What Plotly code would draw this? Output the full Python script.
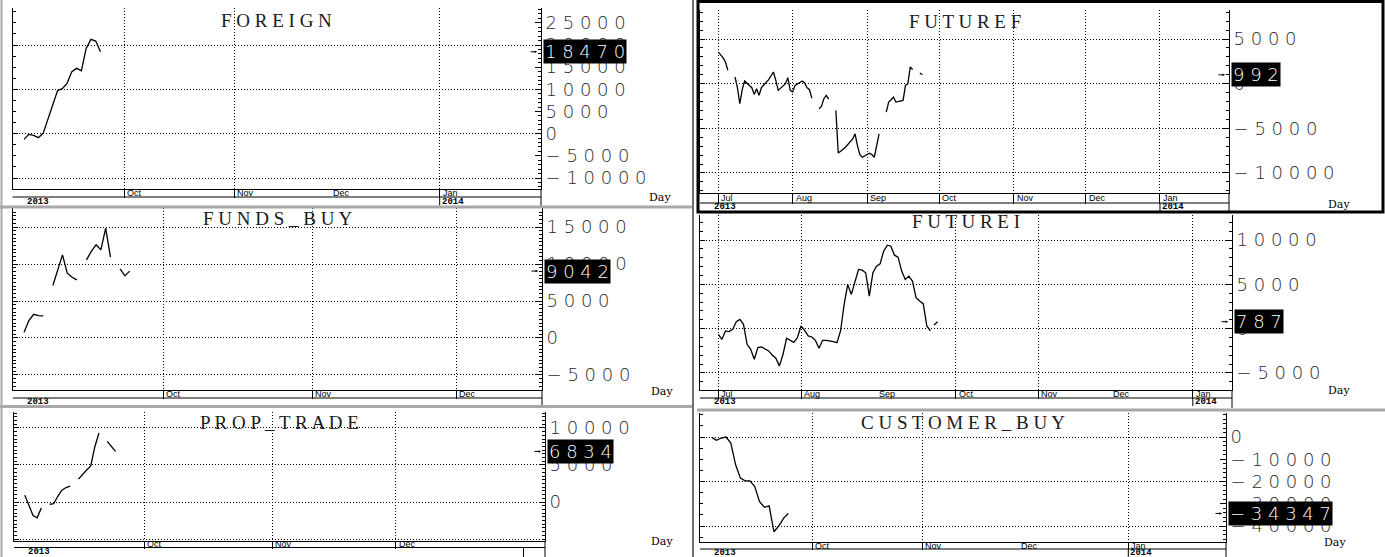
import plotly.graph_objects as go
import pandas as pd

W, H = 1385, 557

# ---------------- data ----------------
MONTH_TICKS = ["2013-07-01", "2013-08-01", "2013-09-01", "2013-10-01",
               "2013-11-01", "2013-12-01", "2014-01-01"]
MONTH_LABELS = ["Jul", "Aug", "Sep", "Oct", "Nov", "Dec", "Jan"]

FOREIGN_DATES = ["09-02", "09-03", "09-04", "09-05", "09-06", "09-09", "09-10", "09-11", "09-12",
                 "09-13", "09-16", "09-17", "09-18", "09-19", "09-20", "09-23", "09-24"]
FOREIGN_VALUES = [-1278, -150, -376, -902, 75, 3233, 6300, 9700, 10150,
                  11353, 13985, 14737, 14211, 19248, 21278, 20902, 18470]

CUSTOMER_BUY_DATES = list(FOREIGN_DATES)
CUSTOMER_BUY_VALUES = [-150, -1504, -451, 0, -2707, -12483, -18499, -19702, -19702,
                       -22259, -29027, -31584, -30982, -42563, -40006, -36547, -34347]

FUTUREF_DATES = ["07-01", "07-02", "07-03", "07-04", "07-05", "07-06",
                 "07-08", "07-09", "07-10", "07-11", "07-12", "07-15", "07-16", "07-17", "07-18",
                 "07-19", "07-22", "07-23", "07-24", "07-25", "07-26", "07-29", "07-30", "07-31",
                 "08-01", "08-02", "08-05", "08-06", "08-07", "08-08", "08-09", "08-10",
                 "08-12", "08-13", "08-14", "08-15", "08-16", "08-17",
                 "08-19", "08-20", "08-21", "08-22", "08-23", "08-26", "08-27", "08-28", "08-29",
                 "08-30", "09-02", "09-03", "09-04", "09-05", "09-06", "09-07",
                 "09-09", "09-10", "09-11", "09-12", "09-13", "09-16", "09-17", "09-18", "09-19",
                 "09-20", "09-21",
                 "09-23", "09-24"]
FUTUREF_VALUES = [3558, 3258, 2921, 2434, 1498, None,
                  749, -449, -2247, -674, 300, -449, -1198, -562, -1311,
                  -449, 449, 936, 1311, 375, -749, 0, 674, -749,
                  -936, -187, 300, 75, -449, -674, -1610, None,
                  -2809, -2547, -1685, -1311, -1723, None,
                  -2996, -7752, -7565, -7303, -7116, -6179, -5618, -6928, -7939,
                  -8239, -7790, -7939, -8239, -6928, -5618, None,
                  -3183, -2060, -1798, -1498, -2060, -1873, -187, 0, 1873,
                  1573, None,
                  1198, 992]

FUNDS_BUY_DATES = ["09-02", "09-03", "09-04", "09-05", "09-06", "09-07",
                   "09-08", "09-09", "09-10", "09-11", "09-12", "09-13", "09-14",
                   "09-15", "09-16", "09-17", "09-18", "09-19", "09-20", "09-21",
                   "09-22", "09-23", "09-24"]
FUNDS_BUY_VALUES = [768, 2348, 3206, 3025, 2980, None,
                    7089, 9165, 11242, 8759, 8217, 7856, None,
                    10565, 11694, 12597, 11920, 14854, 10926, None,
                    9346, 8398, 9042]

PROP_TRADE_DATES = list(FUNDS_BUY_DATES)
PROP_TRADE_VALUES = [909, -591, -1818, -2136, -800, None,
                     -318, -227, 773, 1591, 1955, 2136, None,
                     3091, 3773, 4318, 4864, 7500, 9318, None,
                     8182, 7500, 6834]

FUTUREI_START, FUTUREI_END = "2013-07-01", "2013-09-24"
FUTUREI_VALUES = [-638, -1200, -263, -338, -75, 788, 1050, 488, -1763, -2325,
                  -3450, -2138, -2063, -2250, -2513, -2963, -3338, -4200, -2888, -1088,
                  -1313, -1538, -1013, 300, -188, -825, -938, -1313, -2213, -1313,
                  -1313, -1350, -1463, -1575, -263, 2738, 4988, 3863, 5175, 6675,
                  6600, 6300, 3675, 6300, 7050, 7313, 8738, 9413, 9300, 8288,
                  8063, 6488, 5550, 5925, 5363, 3488, 3113, 2813, 300, -263,
                  413, 787]
FUTUREI_BREAKS = ["2013-09-21"]

Y_LABELS = {
    "FOREIGN": [25000, 20000, 15000, 10000, 5000, 0, -5000, -10000],
    "FUTUREF": [5000, 0, -5000, -10000],
    "FUNDS_BUY": [15000, 10000, 5000, 0, -5000],
    "FUTUREI": [10000, 5000, 0, -5000],
    "PROP_TRADE": [10000, 5000, 0],
    "CUSTOMER_BUY": [0, -10000, -20000, -30000, -40000],
}
Y_GRID = {
    "FOREIGN": [20000, 10000, 0, -10000],
    "FUTUREF": [5000, 0, -5000, -10000],
    "FUNDS_BUY": [15000, 10000, 5000, 0, -5000],
    "FUTUREI": [10000, 5000, 0, -5000],
    "PROP_TRADE": [10000, 5000, 0, -5000],
    "CUSTOMER_BUY": [0, -20000, -40000],
}
X_MONTHS = {
    "FOREIGN": ["Oct", "Nov", "Dec", "Jan"],
    "FUTUREF": ["Jul", "Aug", "Sep", "Oct", "Nov", "Dec", "Jan"],
    "FUNDS_BUY": ["Oct", "Nov", "Dec"],
    "FUTUREI": ["Jul", "Aug", "Sep", "Oct", "Nov", "Dec", "Jan"],
    "PROP_TRADE": ["Oct", "Nov", "Dec"],
    "CUSTOMER_BUY": ["Oct", "Nov", "Dec", "Jan"],
}
YEAR_TICK_ONLY = {"PROP_TRADE": "2014-01-01"}


def with_year(ds):
    return ["2013-" + d for d in ds]


fut_i_dates = [d.strftime("%Y-%m-%d") for d in pd.bdate_range(FUTUREI_START, FUTUREI_END)]
fut_i_x, fut_i_y = [], []
for d, v in zip(fut_i_dates, FUTUREI_VALUES):
    for b in FUTUREI_BREAKS:
        if fut_i_x and fut_i_x[-1] < b < d:
            fut_i_x.append(b)
            fut_i_y.append(None)
    fut_i_x.append(d)
    fut_i_y.append(v)

SERIES = {
    "FOREIGN": (with_year(FOREIGN_DATES), FOREIGN_VALUES),
    "FUTUREF": (with_year(FUTUREF_DATES), FUTUREF_VALUES),
    "FUNDS_BUY": (with_year(FUNDS_BUY_DATES), FUNDS_BUY_VALUES),
    "FUTUREI": (fut_i_x, fut_i_y),
    "PROP_TRADE": (with_year(PROP_TRADE_DATES), PROP_TRADE_VALUES),
    "CUSTOMER_BUY": (with_year(CUSTOMER_BUY_DATES), CUSTOMER_BUY_VALUES),
}

# ---------------- layout config (pixels) ----------------
PANELS = [
    dict(name="FOREIGN", px=(12.5, 541), py=(8, 189), strip=197, year=201.5, bottom=206,
         title_y=20, yr=(-12480, 28350), rminor=1000, lminor=2500,
         xr=("2013-08-28 14:00", "2014-01-30 05:00"), weekday=True, day=(660, 197)),
    dict(name="FUTUREF", px=(700, 1229), py=(10, 193), strip=203, year=207, bottom=211,
         title_y=21, yr=(-12240, 8250), rminor=1000, lminor=1000,
         xr=("2013-06-23 10:00", "2014-01-29 18:00"), weekday=False, day=(1352, 205)),
    dict(name="FUNDS_BUY", px=(13, 542), py=(208, 390), strip=398, year=402, bottom=406,
         title_y=219, yr=(-7030, 17570), rminor=500, lminor=500,
         xr=("2013-08-30 16:35", "2013-12-18 21:36"), weekday=False, day=(662, 400)),
    dict(name="FUTUREI", px=(700, 1232), py=(215, 390), strip=398, year=402, bottom=408,
         title_y=221, yr=(-6920, 12820), rminor=1000, lminor=1000,
         xr=("2013-06-21 21:36", "2014-01-15 21:36"), weekday=True, day=(1352, 399)),
    dict(name="PROP_TRADE", px=(14, 545), py=(412, 541), strip=547.5, year=551.5, bottom=557,
         title_y=422, yr=(-5270, 12160), rminor=500, lminor=500,
         xr=("2013-08-30 09:00", "2014-01-06 05:00"), weekday=False, day=(662, 550)),
    dict(name="CUSTOMER_BUY", px=(700, 1226), py=(413, 542), strip=549, year=553, bottom=557,
         title_y=422, yr=(-47190, 10790), rminor=2000, lminor=5000,
         xr=("2013-08-28 13:30", "2014-01-29 09:36"), weekday=True, day=(1348, 551)),
]

LABEL_FONT = "DejaVu Sans"
TITLE_FONT = "Liberation Serif"


def spaced(s):
    return " ".join(list(s))


def num_text(v):
    s = str(abs(int(v)))
    return spaced(("\u2212" if v < 0 else "") + s)


def fx(x):
    return x / W


def fy(y):
    return 1 - y / H


fig = go.Figure()
layout = dict(width=W, height=H, margin=dict(l=0, r=0, t=0, b=0, pad=0),
              paper_bgcolor="white", plot_bgcolor="white", showlegend=False)
annotations, shapes = [], []

for i, p in enumerate(PANELS):
    k = i + 1
    sfx = "" if k == 1 else str(k)
    xname, yname, y2name = "x" + sfx, "y" + sfx, "y" + str(k + 6)
    x0, x1 = p["px"]
    yt, yb = p["py"]
    strip_h = p["strip"] - yb
    months = [(m, lab) for m, lab in zip(MONTH_TICKS, MONTH_LABELS)
              if lab in X_MONTHS[p["name"]]]
    mvals = [m for m, _ in months]

    xa = dict(domain=[fx(x0), fx(x1)], anchor=yname, type="date", range=list(p["xr"]),
              tickmode="array", tickvals=mvals, showticklabels=False,
              ticks="outside", ticklen=strip_h, tickwidth=1, tickcolor="black",
              showgrid=True, gridcolor="#000000", griddash="1px,2px", gridwidth=1,
              showline=True, linecolor="black", linewidth=1, zeroline=False, fixedrange=True)
    if p["weekday"]:
        xa["rangebreaks"] = [dict(bounds=["sat", "mon"])]
    layout["xaxis" + sfx] = xa

    labels = Y_LABELS[p["name"]]
    layout["yaxis" + sfx] = dict(
        domain=[fy(yb), fy(yt)], anchor=xname, side="right", range=list(p["yr"]),
        tickmode="array", tickvals=labels, ticktext=[num_text(v) for v in labels],
        tickfont=dict(family=LABEL_FONT, size=18, color="#2a2a2a", weight=300),
        ticks="inside", ticklen=6, tickwidth=1, tickcolor="black",
        showgrid=False, zeroline=False, showline=True, linecolor="black", linewidth=1,
        minor=dict(ticks="inside", ticklen=3, tickwidth=1, tickcolor="black",
                   tickmode="linear", tick0=0, dtick=p["rminor"], showgrid=False),
        fixedrange=True)
    layout["yaxis" + str(k + 6)] = dict(
        overlaying=yname, anchor=xname, side="left", range=list(p["yr"]),
        tickmode="array", tickvals=Y_GRID[p["name"]], showticklabels=False,
        ticks="inside", ticklen=5, tickwidth=1, tickcolor="black",
        showgrid=True, gridcolor="#000000", griddash="1px,2px", gridwidth=1,
        zeroline=False, showline=True, linecolor="black", linewidth=1,
        minor=dict(ticks="inside", ticklen=3, tickwidth=1, tickcolor="black",
                   tickmode="linear", tick0=0, dtick=p["lminor"], showgrid=False),
        fixedrange=True)

    xs, ys = SERIES[p["name"]]
    fig.add_trace(go.Scatter(x=xs, y=ys, mode="lines", connectgaps=False,
                             line=dict(color="black", width=1.3),
                             xaxis=xname, yaxis=yname, hoverinfo="skip"))
    # invisible anchor trace for overlay axis
    fig.add_trace(go.Scatter(x=[xs[0]], y=[ys[0]], mode="markers", marker=dict(opacity=0),
                             xaxis=xname, yaxis=y2name, hoverinfo="skip"))

    # title
    annotations.append(dict(text=spaced(p["name"]), xref=xname + " domain", x=0.5,
                            yref="paper", y=fy(p["title_y"]), yanchor="middle", showarrow=False,
                            font=dict(family=TITLE_FONT, size=19, color="#1a1a1a")))
    # last value box
    last = [v for v in ys if v is not None][-1]
    annotations.append(dict(text=num_text(last), xref=xname + " domain", x=1, xanchor="left",
                            xshift=2, yref=yname, y=last, yanchor="middle", showarrow=False,
                            bgcolor="black", borderpad=1,
                            font=dict(family=LABEL_FONT, size=18, color="white", weight=300)))
    # small pointer arrow
    annotations.append(dict(text="", xref=xname + " domain", x=1, xshift=-4,
                            yref=yname, y=last, showarrow=True, ax=-8, ay=0,
                            arrowhead=2, arrowsize=0.5, arrowwidth=1, arrowcolor="black"))
    # Day label
    annotations.append(dict(text="Day", xref="paper", x=fx(p["day"][0]), yref="paper",
                            y=fy(p["day"][1]), showarrow=False,
                            font=dict(family="DejaVu Serif", size=11, color="black")))
    # month labels in the date strip
    for m, lab in months:
        annotations.append(dict(text=lab, xref=xname, x=m, xanchor="left", xshift=1,
                                yref="paper", y=fy((yb + p["strip"]) / 2), yanchor="middle",
                                showarrow=False,
                                font=dict(family="Liberation Sans", size=9, color="black")))
    # year labels
    annotations.append(dict(text="2013", xref="paper", x=fx(x0 + 12), xanchor="left",
                            yref="paper", y=fy(p["year"]), yanchor="middle", showarrow=False,
                            font=dict(family="Liberation Mono", size=9, color="black",
                                      weight="bold")))
    if "2014-01-01" in mvals:
        annotations.append(dict(text="2014", xref=xname, x="2014-01-01", xanchor="left",
                                xshift=0, yref="paper", y=fy(p["year"]), yanchor="middle",
                                showarrow=False,
                                font=dict(family="Liberation Mono", size=9, color="black",
                                          weight="bold")))
        shapes.append(dict(type="line", xref=xname, x0="2014-01-01", x1="2014-01-01",
                           yref="paper", y0=fy(p["strip"]), y1=fy(p["year"] + 4),
                           line=dict(color="black", width=1)))
    if p["name"] in YEAR_TICK_ONLY:
        d = YEAR_TICK_ONLY[p["name"]]
        shapes.append(dict(type="line", xref=xname, x0=d, x1=d, yref="paper",
                           y0=fy(p["strip"]), y1=fy(p["bottom"]),
                           line=dict(color="black", width=1)))
    # strip bottom line
    shapes.append(dict(type="line", xref=xname + " domain", x0=0, x1=1, yref="paper",
                       y0=fy(p["strip"]), y1=fy(p["strip"]),
                       line=dict(color="black", width=1)))
    # right axis continues down through the strip
    shapes.append(dict(type="line", xref=xname + " domain", x0=1, x1=1, yref="paper",
                       y0=fy(yb), y1=fy(p["bottom"]), line=dict(color="black", width=1)))

# panel frames
GRAY = "#a8a8a8"
shapes += [
    dict(type="line", xref="paper", yref="paper", x0=fx(0), x1=fx(692), y0=fy(207), y1=fy(207),
         line=dict(color=GRAY, width=3)),
    dict(type="line", xref="paper", yref="paper", x0=fx(0), x1=fx(692), y0=fy(406.5), y1=fy(406.5),
         line=dict(color=GRAY, width=3)),
    dict(type="line", xref="paper", yref="paper", x0=fx(697), x1=fx(1385), y0=fy(410), y1=fy(410),
         line=dict(color=GRAY, width=3)),
    dict(type="line", xref="paper", yref="paper", x0=fx(693), x1=fx(693), y0=0, y1=1,
         line=dict(color="#707070", width=2)),
    dict(type="line", xref="paper", yref="paper", x0=fx(1.5), x1=fx(1.5), y0=0, y1=1,
         line=dict(color=GRAY, width=2)),
    dict(type="rect", xref="paper", yref="paper", x0=fx(698), x1=fx(1383), y0=fy(212), y1=fy(1.5),
         line=dict(color="black", width=3)),
]

layout["annotations"] = annotations
layout["shapes"] = shapes
fig.update_layout(**layout)

fig.write_html("out.html", config={"displayModeBar": False},
               post_script="document.body.style.margin='0';document.body.style.overflow='hidden';")
